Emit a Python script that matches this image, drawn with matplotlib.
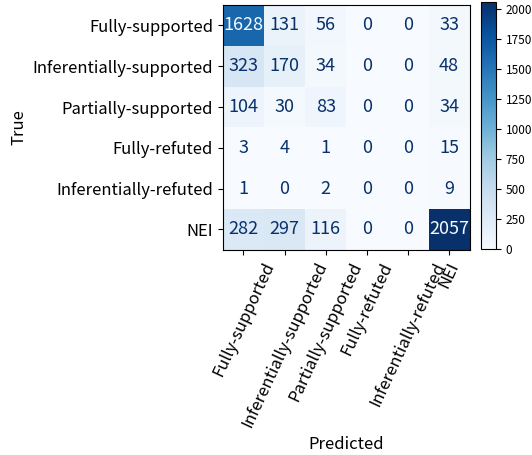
import numpy as np
import matplotlib; matplotlib.use('Agg')
import matplotlib.pyplot as plt

plt.rcParams['font.family'] = ['Noto Sans CJK JP', 'DejaVu Sans']

labels = ['Fully-supported', 'Inferentially-supported', 'Partially-supported',
          'Fully-refuted', 'Inferentially-refuted', 'NEI']

# rows = true class, columns = predicted class
row_fully_sup = [1628, 131, 56, 0, 0, 33]
row_infer_sup = [323, 170, 34, 0, 0, 48]
row_part_sup = [104, 30, 83, 0, 0, 34]
row_fully_ref = [3, 4, 1, 0, 0, 15]
row_infer_ref = [1, 0, 2, 0, 0, 9]
row_nei = [282, 297, 116, 0, 0, 2057]

cm = np.array([row_fully_sup, row_infer_sup, row_part_sup,
               row_fully_ref, row_infer_ref, row_nei])

fig = plt.figure(figsize=(5.32, 4.55), dpi=100)
ax = fig.add_axes([0.419, 0.451, 0.464, 0.538])
cax = fig.add_axes([0.904, 0.452, 0.028, 0.543])

cmap = plt.get_cmap('Blues')
im = ax.imshow(cm, cmap=cmap, interpolation='nearest', aspect='auto')
cb = fig.colorbar(im, cax=cax)
cb.set_ticks(np.arange(0, 2001, 250))
cb.ax.tick_params(labelsize=8.5)

thresh = (cm.max() + cm.min()) / 2.0
for i in range(cm.shape[0]):
    for j in range(cm.shape[1]):
        color = cmap(0.0) if cm[i, j] >= thresh else cmap(1.0)
        ax.text(j, i, str(cm[i, j]), ha='center', va='center',
                color=color, fontsize=13)

ax.set_xticks(range(len(labels)))
ax.set_yticks(range(len(labels)))
ax.set_xticklabels(labels, rotation=65, fontsize=12)
ax.set_yticklabels(labels, fontsize=12)
ax.set_xlabel('Predicted', fontsize=12)
ax.set_ylabel('True', fontsize=12)

fig.savefig('out.png', dpi=100)
